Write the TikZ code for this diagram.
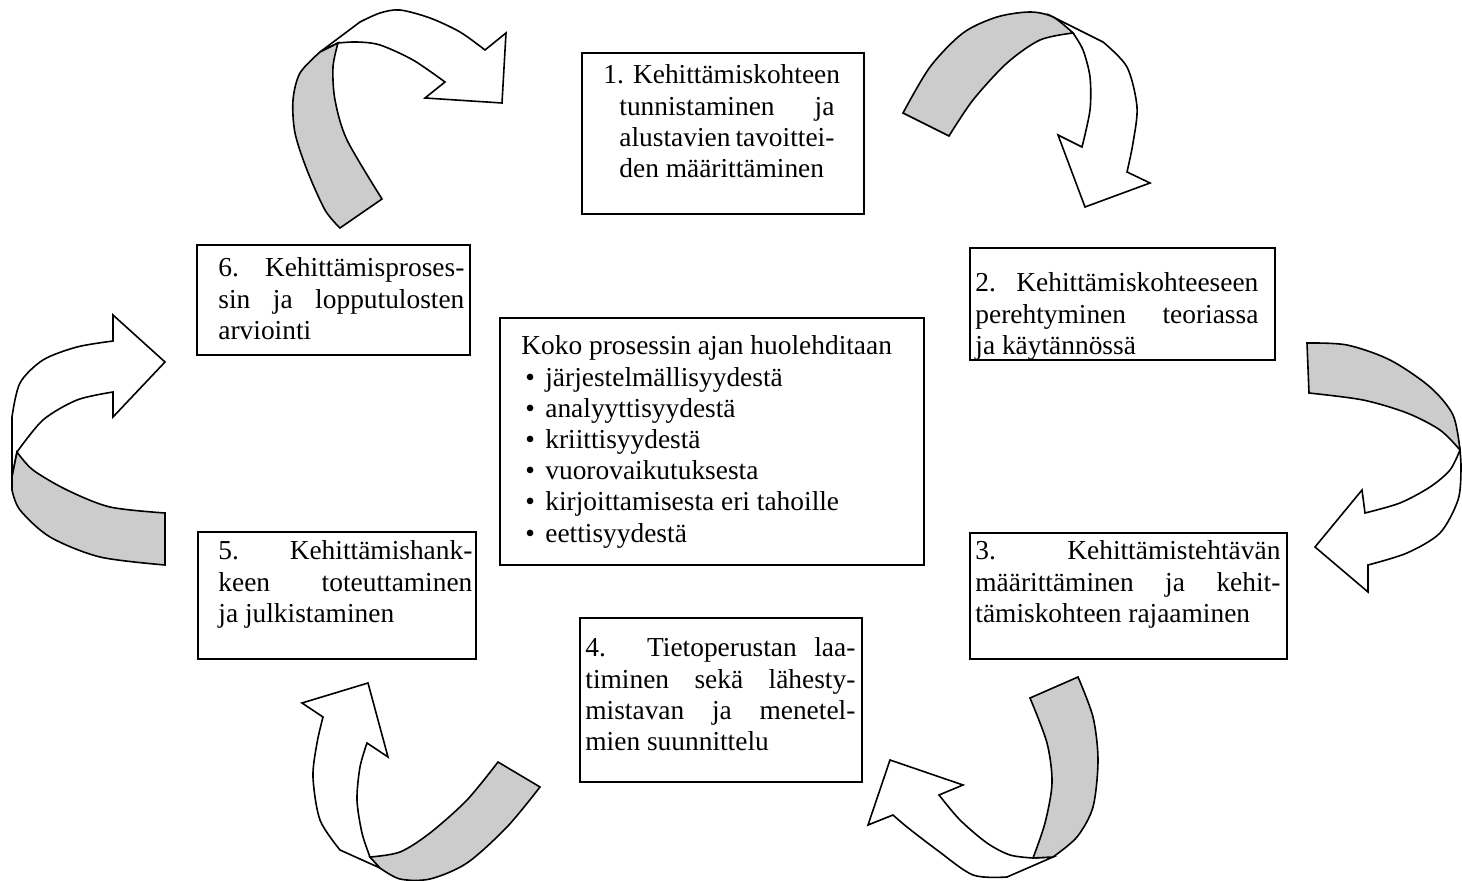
\documentclass[tikz,border=0pt]{standalone}
\usepackage{fontspec}
\setmainfont{Liberation Serif}
\definecolor{ribbongray}{RGB}{204,204,204}
% a justified line of given width
\newcommand{\jl}[2]{\makebox[#1][s]{#2}}
\newcommand{\bul}{\hspace*{2pt}\makebox[10pt][l]{•}}
\begin{document}
\begin{tikzpicture}[x=0.5pt,y=-0.5pt,
  box/.style={draw, line width=1pt, rectangle, inner sep=0pt},
  txt/.style={inner sep=0pt, anchor=base west, font=\fontsize{13.7}{15.6}\selectfont},
  band/.style={draw, line width=0.8pt, fill=white},
  shade/.style={draw, line width=0.8pt, fill=ribbongray}]

\fill[white] (0,0) rectangle (1462,881);
\useasboundingbox (0,0) rectangle (1462,881);

% process boxes
\node[box, minimum width=141pt, minimum height=80.5pt] (b1) at (723,133.5) {};
\node[box, minimum width=152.5pt, minimum height=56pt] (b2) at (1122.5,304) {};
\node[box, minimum width=158.5pt, minimum height=63pt] (b3) at (1128.5,596) {};
\node[box, minimum width=141pt, minimum height=82pt] (b4) at (721,700) {};
\node[box, minimum width=139pt, minimum height=63.5pt] (b5) at (337,595.5) {};
\node[box, minimum width=136.5pt, minimum height=55pt] (b6) at (333.5,300) {};
\node[box, minimum width=212pt, minimum height=123.5pt] (bc) at (712,441.5) {};

% box texts
\node[txt] (t1) at (603,84) {\parbox[t]{115.5pt}{%
  \jl{115.5pt}{1.\ \ Kehittämiskohteen}\\
  \hspace*{8pt}\jl{107.5pt}{tunnistaminen ja}\\
  \hspace*{8pt}\jl{107.5pt}{alustavien tavoittei-}\\
  \hspace*{8pt}den määrittäminen}};
\node[txt] (t2) at (975,292) {\parbox[t]{141.5pt}{%
  \jl{141.5pt}{2. Kehittämiskohteeseen}\\
  \jl{141.5pt}{perehtyminen teoriassa}\\
  ja käytännössä}};
\node[txt] (t3) at (975,560) {\parbox[t]{152.5pt}{%
  \jl{152.5pt}{3. Kehittämistehtävän}\\
  \jl{152.5pt}{määrittäminen ja kehit-}\\
  tämiskohteen rajaaminen}};
\node[txt] (t4) at (585,657) {\parbox[t]{135pt}{%
  \jl{135pt}{4. Tietoperustan laa-}\\
  \jl{135pt}{timinen sekä lähesty-}\\
  \jl{135pt}{mistavan ja menetel-}\\
  mien suunnittelu}};
\node[txt] (t5) at (218,560) {\parbox[t]{127pt}{%
  \jl{127pt}{5.\ Kehittämishank-}\\
  \jl{127pt}{keen toteuttaminen}\\
  ja julkistaminen}};
\node[txt] (t6) at (218,277) {\parbox[t]{123pt}{%
  \jl{123pt}{6. Kehittämisproses-}\\
  \jl{123pt}{sin ja lopputulosten}\\
  arviointi}};
\node[txt] (tc) at (521,355) {\parbox[t]{200pt}{%
  Koko prosessin ajan huolehditaan\\
  \bul järjestelmällisyydestä\\
  \bul analyyttisyydestä\\
  \bul kriittisyydestä\\
  \bul vuorovaikutuksesta\\
  \bul kirjoittamisesta eri tahoille\\
  \bul eettisyydestä}};

% curved arrow: 6 -> 1
\draw[band] (320,52) -- plot[smooth] coordinates {(360,22) (380,13) (400,10) (430,18) (460,32) (485,50)}
  -- (506,33) -- (502,103) -- (425,98) -- (445,82)
  -- plot[smooth] coordinates {(445,82) (413,60) (380,45) (357,42) (338,43)} -- cycle;
\draw[shade] (338,43) -- plot[smooth] coordinates {(338,43) (333,67) (335,100) (347,140) (382,199)}
  -- (340,228) -- plot[smooth] coordinates {(340,228) (325,210) (307,170) (295,133) (293,100) (300,73) (320,52)} -- cycle;

% curved arrow: 1 -> 2
\draw[band] (1053,17) -- plot[smooth] coordinates {(1103,42) (1127,67) (1137,107) (1133,143) (1127,172)}
  -- (1150,183) -- (1085,207) -- (1058,135) -- (1082,147)
  -- plot[smooth] coordinates {(1082,147) (1090,110) (1090,77) (1083,50) (1073,33)} -- cycle;
\draw[shade] (903,113) -- plot[smooth] coordinates {(903,113) (930,67) (963,33) (997,17) (1030,12) (1053,17) (1073,33)}
  -- plot[smooth] coordinates {(1073,33) (1040,40) (1007,63) (973,100) (949,136)} -- cycle;

% curved arrow: 2 -> 3
\draw[band] (1460,450) -- plot[smooth] coordinates {(1460,450) (1461,470) (1458,500) (1440,533) (1407,553) (1368,565)}
  -- (1368,592) -- (1315,547) -- (1362,490) -- (1365,513)
  -- plot[smooth] coordinates {(1365,513) (1400,503) (1430,487) (1450,470) (1460,450)} -- cycle;
\draw[shade] (1307,343) -- plot[smooth] coordinates {(1307,343) (1347,345) (1390,360) (1430,387) (1453,415) (1460,450)}
  -- plot[smooth] coordinates {(1460,450) (1440,430) (1407,413) (1363,400) (1309,393)} -- cycle;

% curved arrow: 3 -> 4
\draw[band] (1053,857) -- (1007,877) -- plot[smooth] coordinates {(1007,877) (973,875) (937,850) (907,827) (893,815)}
  -- (868,825) -- (890,760) -- (963,785) -- (939,795)
  -- plot[smooth] coordinates {(939,795) (960,820) (987,843) (1010,855) (1033,858)} -- cycle;
\draw[shade] (1030,698) -- (1078,677) -- plot[smooth] coordinates {(1078,677) (1093,717) (1098,760) (1093,807) (1077,837) (1053,857)}
  -- (1033,858) -- plot[smooth] coordinates {(1033,858) (1045,823) (1052,783) (1047,743) (1030,698)} -- cycle;

% curved arrow: 4 -> 5
\draw[band] (380,868) -- (340,850) -- plot[smooth] coordinates {(340,850) (320,820) (313,777) (317,743) (323,717)}
  -- (302,703) -- (368,683) -- (388,757) -- (367,743)
  -- plot[smooth] coordinates {(367,743) (360,767) (357,800) (362,833) (370,857)} -- cycle;
\draw[shade] (498,762) -- (540,787) -- plot[smooth] coordinates {(540,787) (507,827) (467,863) (430,879) (400,879) (380,868)}
  -- (370,857) -- plot[smooth] coordinates {(370,857) (400,852) (430,833) (467,800) (498,762)} -- cycle;

% curved arrow: 5 -> 6
\draw[band] (12,477) -- (12,417) -- plot[smooth] coordinates {(12,417) (20,383) (43,360) (77,347) (113,341)}
  -- (113,315) -- (165,362) -- (113,417) -- (113,392)
  -- plot[smooth] coordinates {(113,392) (77,400) (43,420) (17,452)} -- cycle;
\draw[shade] (17,452) -- (12,477) -- (12,490) -- plot[smooth] coordinates {(12,490) (20,510) (50,537) (100,557) (165,565)}
  -- (165,513) -- plot[smooth] coordinates {(165,513) (110,507) (67,490) (33,470) (17,452)} -- cycle;
\end{tikzpicture}
\end{document}
